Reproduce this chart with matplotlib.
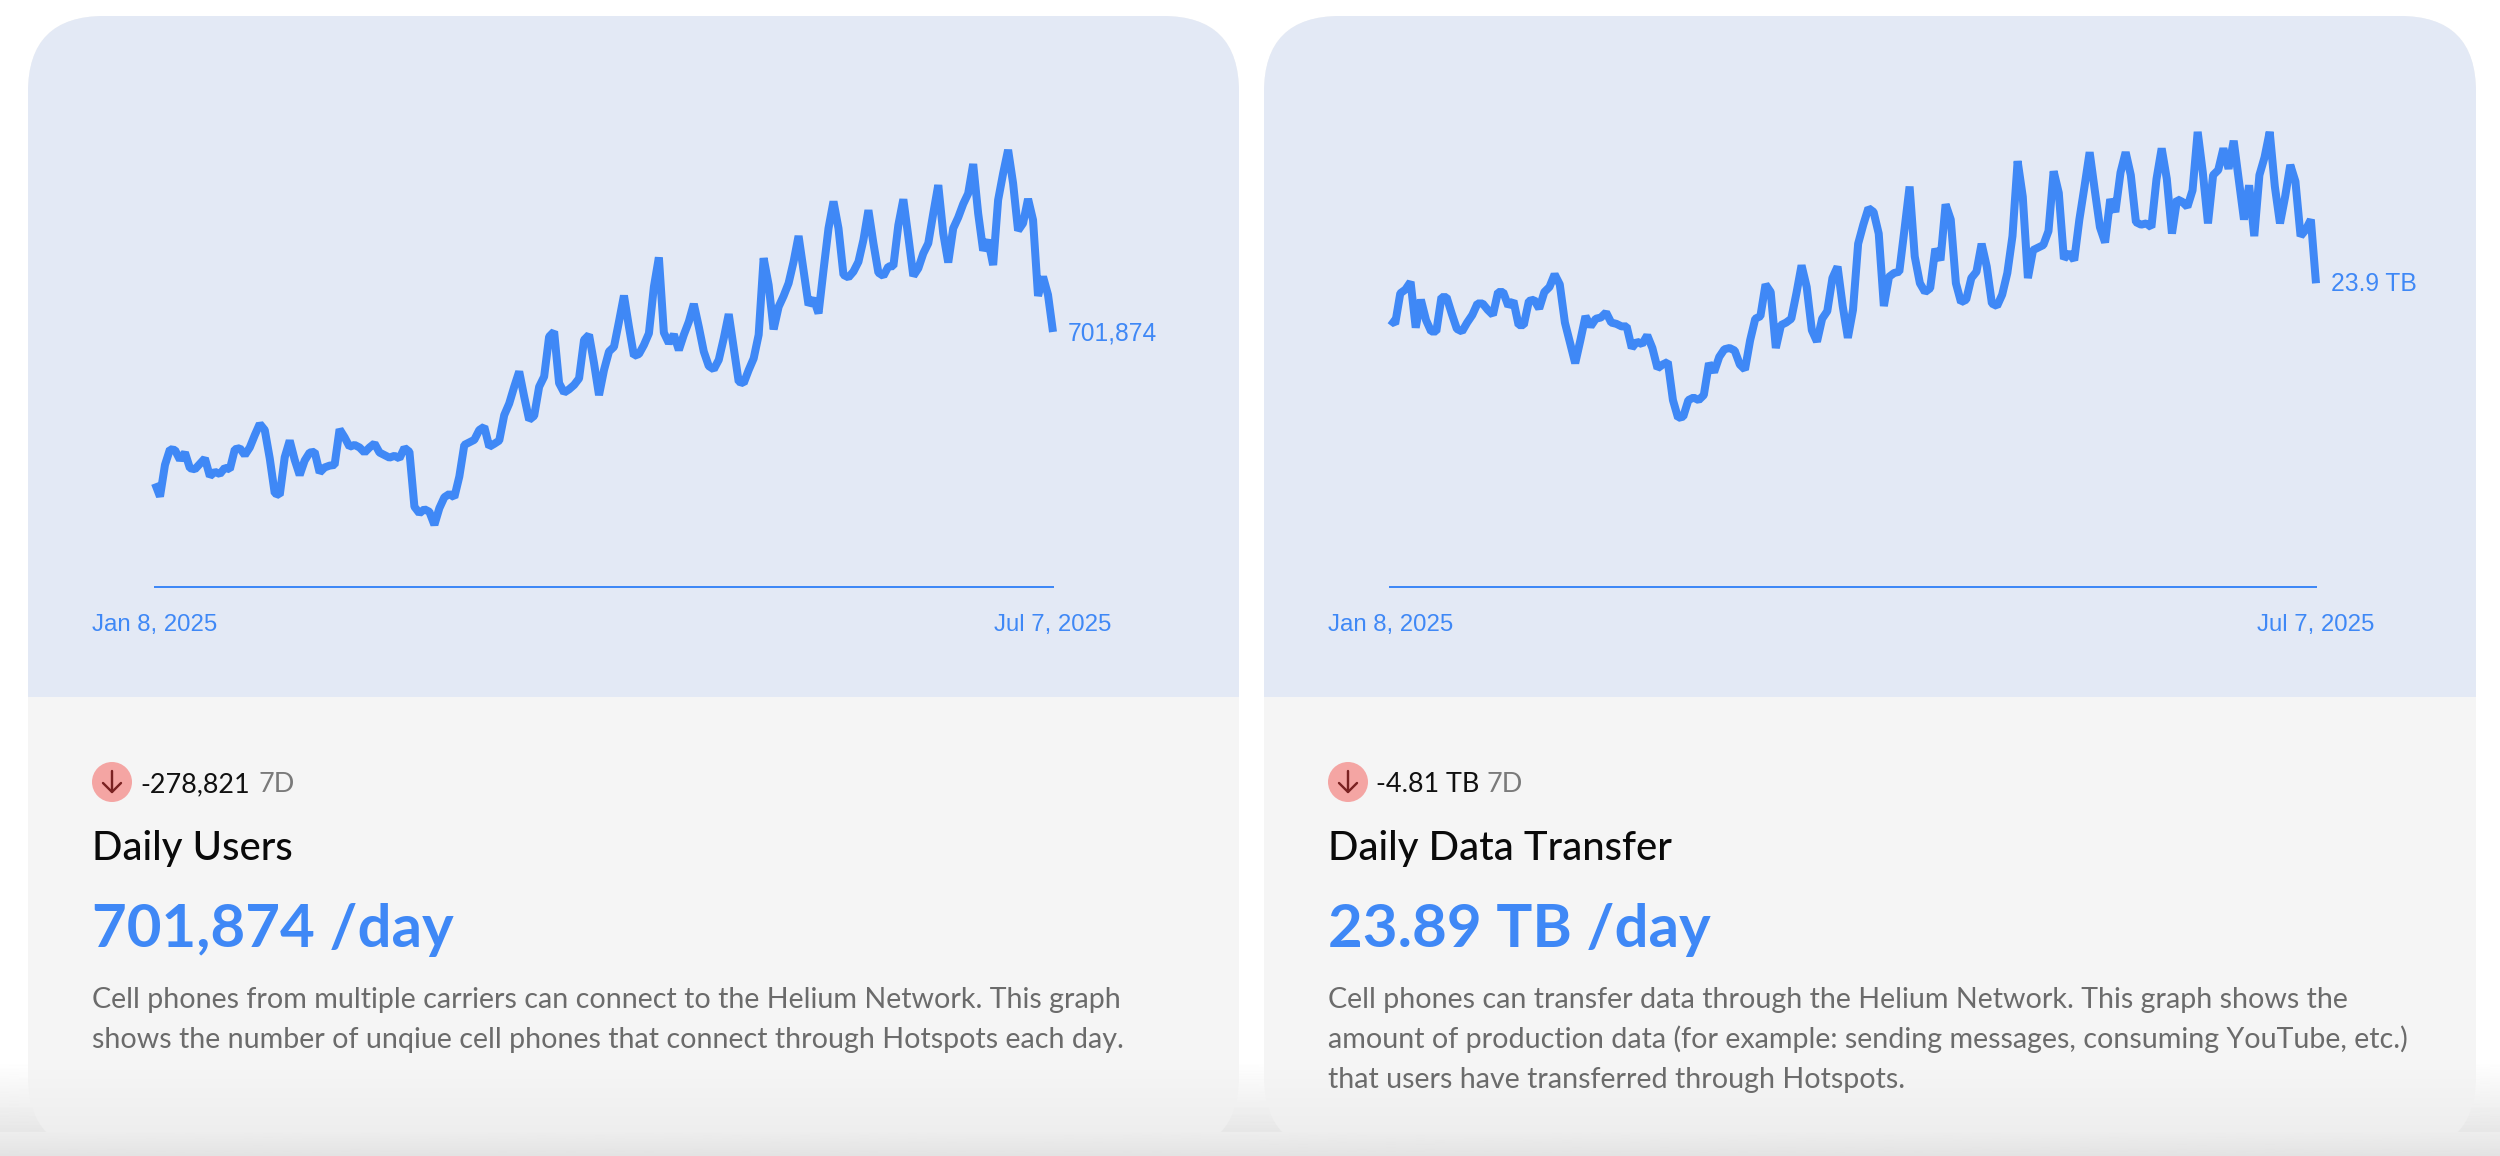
import matplotlib
matplotlib.use('Agg')
import matplotlib.pyplot as plt
import numpy as np
from matplotlib.patches import FancyBboxPatch, Rectangle, Circle

plt.rcParams['font.family'] = ['Lato', 'DejaVu Sans']

W, H = 2500, 1156
AZUL = '#3f88f6'

# usuarios por dia, em milhares
usuarios = [285, 249, 336, 379, 377, 350, 370, 327, 324, 339, 354, 305, 317, 311, 328, 324, 379, 382, 363, 384,
            418, 449, 432, 354, 258, 253, 357, 403, 350, 308, 348, 370, 372, 315, 329, 334, 336, 434, 412, 386,
            391, 384, 370, 384, 395, 370, 363, 356, 361, 354, 383, 372, 221, 203, 214, 207, 171, 217, 247, 256,
            247, 304, 391, 398, 405, 432, 441, 386, 394, 403, 473, 505, 551, 593, 524, 460, 471, 551, 579, 689,
            703, 561, 535, 544, 556, 574, 680, 694, 616, 528, 597, 648, 661, 730, 802, 716, 636, 641, 666, 698,
            826, 907, 700, 671, 695, 652, 694, 730, 779, 716, 648, 608, 599, 625, 684, 751, 657, 565, 561, 597,
            629, 694, 905, 831, 709, 771, 801, 836, 895, 966, 872, 776, 794, 753, 872, 987, 1061, 987, 859, 852,
            868, 895, 955, 1037, 946, 865, 856, 882, 883, 996, 1067, 964, 856, 877, 918, 946, 1028, 1106, 973, 893,
            987, 1017, 1054, 1083, 1164, 1028, 926, 955, 886, 1065, 1138, 1203, 1111, 981, 1001, 1068, 1010, 801, 854, 804,
            701.874]

# dados transferidos por dia, em TB
dados = [21.0, 20.7, 23.1, 23.4, 24.0, 20.4, 22.6, 21.0, 20.1, 20.1, 22.8, 22.8, 21.5, 20.3, 20.1, 20.8, 21.4, 22.3, 22.3, 21.8,
         21.4, 23.2, 23.2, 22.1, 22.5, 20.6, 20.6, 22.5, 22.6, 21.9, 23.2, 23.6, 24.6, 23.8, 20.8, 19.2, 17.6, 19.4, 21.3, 20.5,
         21.1, 21.2, 21.6, 20.8, 20.7, 20.5, 20.5, 18.8, 19.3, 19.1, 19.8, 18.8, 17.2, 17.5, 17.7, 14.7, 13.3, 13.4, 14.7, 14.9,
         14.7, 15.1, 17.6, 16.9, 18.1, 18.7, 18.8, 18.6, 17.5, 17.1, 19.4, 21.1, 21.3, 23.8, 23.2, 18.8, 20.6, 20.8, 21.1, 23.1,
         25.3, 23.6, 20.2, 19.3, 21.1, 21.7, 24.3, 25.2, 22.1, 19.6, 21.8, 27.0, 28.5, 29.8, 29.5, 27.8, 22.1, 24.4, 24.7, 24.8,
         28.1, 31.5, 26.0, 23.9, 23.2, 23.5, 26.6, 25.7, 30.1, 28.9, 23.9, 22.4, 22.6, 24.3, 24.8, 27.0, 25.2, 22.3, 22.1, 23.0,
         24.7, 27.6, 33.5, 30.7, 24.3, 26.5, 26.7, 26.9, 28.0, 32.7, 31.0, 25.8, 26.3, 25.7, 28.9, 31.5, 34.2, 31.2, 28.3, 27.1,
         30.5, 29.5, 32.6, 34.2, 32.4, 28.7, 28.5, 28.6, 28.3, 32.1, 34.5, 32.1, 27.8, 30.5, 30.3, 29.9, 31.2, 35.8, 32.6, 28.6,
         32.4, 32.8, 34.5, 32.9, 35.1, 32.0, 28.9, 31.6, 27.6, 32.4, 33.8, 35.8, 31.5, 28.6, 30.7, 33.2, 31.9, 27.6, 28.1, 28.9,
         23.89]

data_inicio = 'Jan 8, 2025'
data_fim = 'Jul 7, 2025'


def px(tamanho):
    return tamanho * 0.72


def texto(ax, x, y, s, tam, cor, peso='normal', ha='left', familia=None):
    ax.text(x, y, s, fontsize=px(tam), color=cor, fontweight=peso, ha=ha, va='baseline',
            family=familia if familia else ['Lato', 'DejaVu Sans'], zorder=6)


def cartao(fundo, x0, x1):
    y0, y1, raio = 16, 1152, 76
    base = FancyBboxPatch((x0 + raio, y0 + raio), x1 - x0 - 2 * raio, y1 - y0 - 2 * raio,
                          boxstyle=f'round,pad={raio},rounding_size={raio}',
                          fc='#f5f5f5', ec='none', zorder=2)
    fundo.add_patch(base)
    topo = Rectangle((x0, y0), x1 - x0, 697 - y0, fc='#e3e9f5', ec='none', zorder=3)
    fundo.add_patch(topo)
    topo.set_clip_path(base)


def grafico(fig, x0, x1, serie, escala):
    # escala = unidades por pixel, base do eixo em y=587
    ax = fig.add_axes([x0 / W, 1 - 587 / H, (x1 - x0) / W, 500 / H])
    ax.patch.set_alpha(0)
    ax.plot(range(len(serie)), serie, color=AZUL, lw=px(8), solid_joinstyle='bevel', solid_capstyle='butt', clip_on=False)
    ax.set_xlim(0, len(serie) - 1)
    ax.set_ylim(0, 500 * escala)
    ax.set_xticks([])
    ax.set_yticks([])
    for lado in ['top', 'left', 'right']:
        ax.spines[lado].set_visible(False)
    ax.spines['bottom'].set_color(AZUL)
    ax.spines['bottom'].set_linewidth(px(2))
    return ax


def seta(fundo, cx, cy):
    fundo.add_patch(Circle((cx, cy), 20, fc='#f4a5a3', ec='none', zorder=4))
    fundo.plot([cx, cx], [cy - 11, cy + 10], color='#7a2222', lw=px(2.4), zorder=5, solid_capstyle='round')
    fundo.plot([cx - 9, cx, cx + 9], [cy + 1, cy + 10, cy + 1], color='#7a2222', lw=px(2.4), zorder=5, solid_capstyle='round')


fig = plt.figure(figsize=(W / 100, H / 100), dpi=100, facecolor='white')
fundo = fig.add_axes([0, 0, 1, 1])
fundo.set_xlim(0, W)
fundo.set_ylim(H, 0)
fundo.axis('off')

# sombra do rodape da janela
grad = np.interp(np.linspace(1060, 1156, 97), [1060, 1100, 1132, 1156], [1.0, 0.965, 0.93, 0.89])
fundo.imshow(grad[:, None], extent=[0, W, 1156, 1060], cmap='gray', vmin=0, vmax=1, aspect='auto', zorder=1)
fundo.set_xlim(0, W)
fundo.set_ylim(H, 0)

cartao(fundo, 28, 1239)
cartao(fundo, 1264, 2476)

# corta os cartoes embaixo, com a mesma sombra
fundo.imshow(grad[72:, None], extent=[0, W, 1156, 1132], cmap='gray', vmin=0, vmax=1, aspect='auto', zorder=4)
sombra = np.zeros((72, 1, 4))
sombra[:, 0, 3] = np.linspace(0, 0.03, 72)
fundo.imshow(sombra, extent=[0, W, 1132, 1060], aspect='auto', zorder=4)
fundo.set_xlim(0, W)
fundo.set_ylim(H, 0)

grafico(fig, 155, 1053, usuarios, 2.752)
grafico(fig, 1390, 2316, dados, 0.07866)

DESC = 28.6
GRIS = '#6b6b6b'

# cartao 1
SANS = ['Liberation Sans', 'DejaVu Sans']
texto(fundo, 92, 631, data_inicio, 24, AZUL, familia=SANS)
texto(fundo, 1111, 631, data_fim, 24, AZUL, ha='right', familia=SANS)
texto(fundo, 1068, 341, '701,874', 24.6, AZUL, familia=SANS)
seta(fundo, 112, 782)
texto(fundo, 140, 792, '-278,821', 27, '#111111')
texto(fundo, 258, 792, '7D', 27, '#7a7a7a')
texto(fundo, 92, 860, 'Daily Users', 40, '#0a0a0a', peso='medium')
texto(fundo, 92, 947, '701,874 /day', 60, AZUL, peso='bold')
texto(fundo, 92, 1008, 'Cell phones from multiple carriers can connect to the Helium Network. This graph', DESC, GRIS)
texto(fundo, 92, 1048, 'shows the number of unqiue cell phones that connect through Hotspots each day.', DESC, GRIS)

# cartao 2
texto(fundo, 1328, 631, data_inicio, 24, AZUL, familia=SANS)
texto(fundo, 2374, 631, data_fim, 24, AZUL, ha='right', familia=SANS)
texto(fundo, 2331, 291, '23.9 TB', 24.6, AZUL, familia=SANS)
seta(fundo, 1348, 782)
texto(fundo, 1376, 792, '-4.81 TB', 27, '#111111')
texto(fundo, 1487, 792, '7D', 27, '#7a7a7a')
texto(fundo, 1328, 860, 'Daily Data Transfer', 40, '#0a0a0a', peso='medium')
texto(fundo, 1328, 947, '23.89 TB /day', 60, AZUL, peso='bold')
texto(fundo, 1328, 1008, 'Cell phones can transfer data through the Helium Network. This graph shows the', DESC, GRIS)
texto(fundo, 1328, 1048, 'amount of production data (for example: sending messages, consuming YouTube, etc.)', DESC, GRIS)
texto(fundo, 1328, 1088, 'that users have transferred through Hotspots.', DESC, GRIS)

fig.savefig('out.png', dpi=100)
